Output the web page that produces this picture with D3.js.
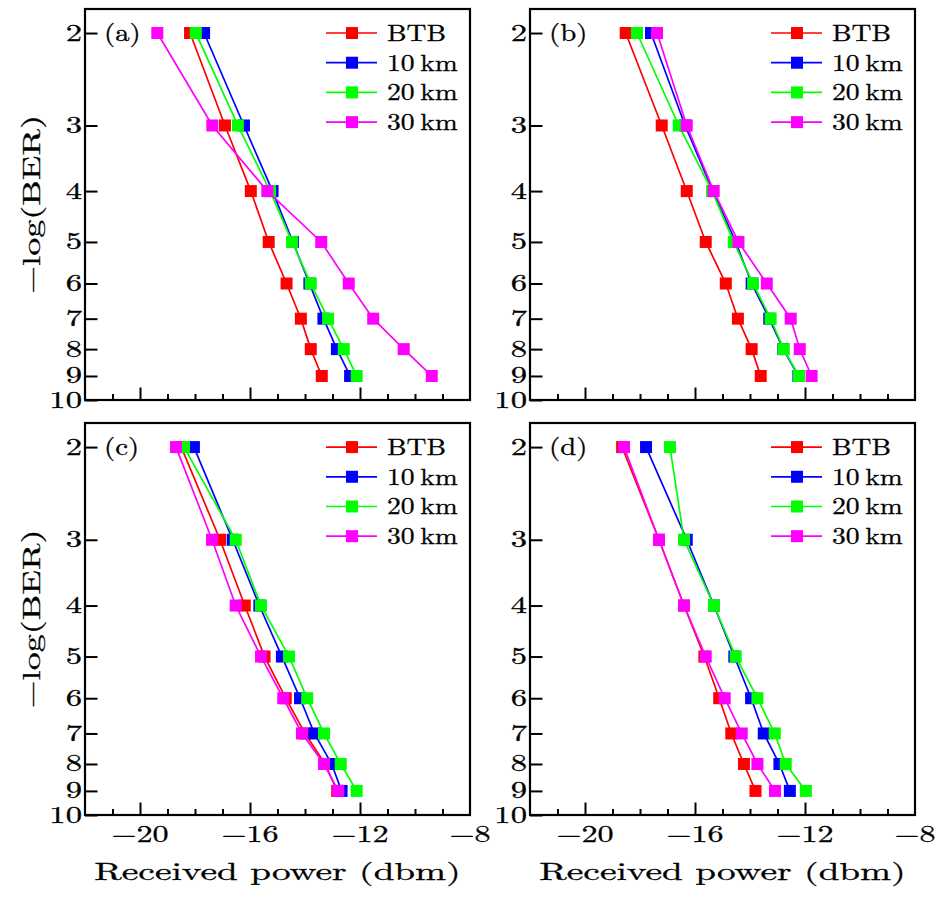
<!DOCTYPE html>
<html>
<head>
<meta charset="utf-8">
<script src="https://cdn.jsdelivr.net/npm/d3@7/dist/d3.min.js"></script>
<style>
  html, body { margin: 0; padding: 0; background: #fff; }
  svg { display: block; }
  svg text { stroke: #000; stroke-width: 0.3px; fill: #000; }
</style>
</head>
<body>
<svg id="chart" width="946" height="905" font-family="Latin Modern Roman, Liberation Serif, serif"></svg>
<script>
// ---- data ----
const berLevels = [2, 3, 4, 5, 6, 7, 8, 9];
const seriesNames = ["BTB", "10 km", "20 km", "30 km"];
const seriesColors = ["#ff0000", "#0000ff", "#00ff00", "#ff00ff"];
const panelLabels = ["(a)", "(b)", "(c)", "(d)"];
const xTickValues = [-20, -16, -12, -8];
const yTickValues = [2, 3, 4, 5, 6, 7, 8, 9, 10];
const xTitle = "Received power (dbm)";
const yTitle = "\u2212log(BER)";

const panelA_BTB  = [-18.18, -16.91, -15.97, -15.32, -14.67, -14.15, -13.79, -13.39];
const panelA_10km = [-17.67, -16.22, -15.18, -14.44, -13.84, -13.33, -12.84, -12.36];
const panelA_20km = [-17.97, -16.44, -15.27, -14.47, -13.79, -13.16, -12.59, -12.12];
const panelA_30km = [-19.37, -17.37, -15.37, -13.41, -12.41, -11.52, -10.41, -9.39];

const panelB_BTB  = [-18.52, -17.21, -16.30, -15.61, -14.88, -14.44, -13.94, -13.61];
const panelB_10km = [-17.60, -16.36, -15.35, -14.52, -13.94, -13.30, -12.79, -12.24];
const panelB_20km = [-18.11, -16.59, -15.38, -14.59, -13.89, -13.25, -12.78, -12.22];
const panelB_30km = [-17.38, -16.30, -15.32, -14.42, -13.39, -12.52, -12.19, -11.76];

const panelC_BTB  = [-18.50, -17.09, -16.19, -15.47, -14.70, -14.00, -13.27, -12.83];
const panelC_10km = [-18.04, -16.63, -15.66, -14.84, -14.18, -13.66, -13.03, -12.67];
const panelC_20km = [-18.40, -16.52, -15.60, -14.58, -13.92, -13.31, -12.70, -12.12];
const panelC_30km = [-18.69, -17.38, -16.52, -15.60, -14.79, -14.11, -13.31, -12.79];

const panelD_BTB  = [-18.65, -17.31, -16.40, -15.66, -15.12, -14.68, -14.22, -13.80];
const panelD_10km = [-17.78, -16.30, -15.31, -14.57, -13.96, -13.50, -12.93, -12.55];
const panelD_20km = [-16.91, -16.40, -15.31, -14.52, -13.73, -13.10, -12.70, -11.97];
const panelD_30km = [-18.58, -17.31, -16.40, -15.61, -14.92, -14.30, -13.73, -13.09];

const panels = [
  { label: panelLabels[0], x0: 85,  y0: 9,   h: 391, series: [panelA_BTB, panelA_10km, panelA_20km, panelA_30km], showX: false, showYTitle: true },
  { label: panelLabels[1], x0: 530, y0: 9,   h: 391, series: [panelB_BTB, panelB_10km, panelB_20km, panelB_30km], showX: false, showYTitle: false },
  { label: panelLabels[2], x0: 85,  y0: 423, h: 392, series: [panelC_BTB, panelC_10km, panelC_20km, panelC_30km], showX: true,  showYTitle: true },
  { label: panelLabels[3], x0: 530, y0: 423, h: 392, series: [panelD_BTB, panelD_10km, panelD_20km, panelD_30km], showX: true,  showYTitle: false }
];

const W = 385;
const svg = d3.select("#chart");

// helper: text with horizontal stretch (mimics the wide small-size TeX font)
function stretchedText(parent, x, y, str, size, sx, anchor) {
  return parent.append("text")
    .attr("transform", `translate(${x},${y}) scale(${sx},1)`)
    .attr("text-anchor", anchor || "start")
    .attr("font-size", size)
    .text(str);
}

panels.forEach(p => {
  const g = svg.append("g").attr("transform", `translate(${p.x0},${p.y0})`);
  const x = d3.scaleLinear().domain([-22, -8]).range([0, W]);
  const y = d3.scaleLog().domain([1.8, 10]).range([0, p.h]);

  // bottom ticks (inward)
  const xAxis = d3.axisBottom(x).tickValues(d3.range(-21, -8, 1)).tickSize(-6).tickFormat("");
  const xa = g.append("g").attr("transform", `translate(0,${p.h})`).call(xAxis);
  xa.select(".domain").remove();
  xa.selectAll(".tick line").attr("stroke", "#000").attr("stroke-width", 2)
    .attr("y2", d => (d % 4 === 0 ? -12.5 : -6));

  if (p.showX) {
    xTickValues.forEach(v => {
      stretchedText(g, x(v), p.h + 27, "\u2212" + Math.abs(v), 24, 1.34, "middle");
    });
    stretchedText(g, W / 2, p.h + 65, xTitle, 24.4, 1.53, "middle");
  }

  // left ticks (inward)
  const yAxis = d3.axisLeft(y).tickValues(yTickValues).tickSize(-12.5).tickFormat("");
  const ya = g.append("g").call(yAxis);
  ya.select(".domain").remove();
  ya.selectAll(".tick line").attr("stroke", "#000").attr("stroke-width", 2);

  yTickValues.forEach(v => {
    stretchedText(g, -3, y(v) + 7.5, String(v), 23, 1.42, "end");
  });

  if (p.showYTitle) {
    g.append("text")
      .attr("transform", `translate(${40 - p.x0},${p.h / 2}) rotate(-90) scale(1.45,1)`)
      .attr("text-anchor", "middle").attr("font-size", 24.9)
      .text(yTitle);
  }

  // frame
  g.append("rect").attr("x", 0).attr("y", 0).attr("width", W).attr("height", p.h)
    .attr("fill", "none").attr("stroke", "#000").attr("stroke-width", 2.2);

  // series
  const line = d3.line().x(d => x(d[0])).y(d => y(d[1]));
  p.series.forEach((vals, i) => {
    const pts = vals.map((v, j) => [v, berLevels[j]]);
    g.append("path").datum(pts).attr("d", line)
      .attr("fill", "none").attr("stroke", seriesColors[i]).attr("stroke-width", 1.7);
    g.selectAll(".m" + i).data(pts).enter().append("rect")
      .attr("x", d => x(d[0]) - 6).attr("y", d => y(d[1]) - 6)
      .attr("width", 12).attr("height", 12).attr("fill", seriesColors[i]);
  });

  // panel label
  stretchedText(g, 19, y(2) + 8, p.label, 24, 1.2, "start");

  // legend
  seriesNames.forEach((name, i) => {
    const ly = y(2) + i * 29.7;
    g.append("line").attr("x1", 241).attr("x2", 292).attr("y1", ly).attr("y2", ly)
      .attr("stroke", seriesColors[i]).attr("stroke-width", 1.7);
    g.append("rect").attr("x", 261).attr("y", ly - 6).attr("width", 12).attr("height", 12)
      .attr("fill", seriesColors[i]);
    stretchedText(g, 302, ly + 7.8, name, 23, 1.2, "start").style("word-spacing", "-3px");
  });
});
</script>
</body>
</html>
